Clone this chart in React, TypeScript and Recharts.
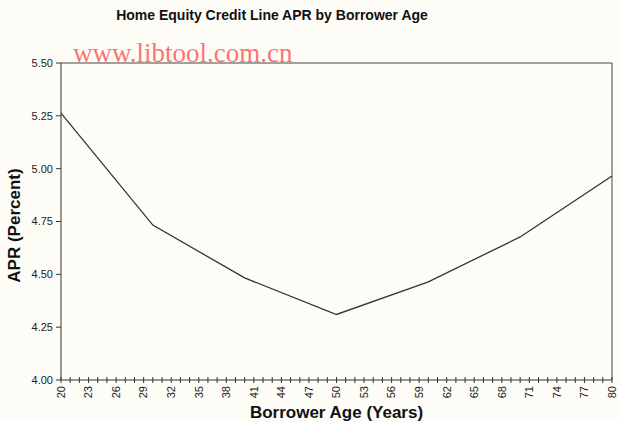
import React from "react";
import { LineChart, Line, XAxis, YAxis, ReferenceLine, Label } from "recharts";

const ages = [20, 30, 40, 50, 60, 70, 80];
const aprValues = [5.263, 4.733, 4.483, 4.31, 4.464, 4.677, 4.965];
const yTicks = [4.0, 4.25, 4.5, 4.75, 5.0, 5.25, 5.5];
const xTicks: number[] = [];
for (let a = 20; a <= 80; a++) xTicks.push(a);
const labelEvery = 3;

const data = ages.map((age, i) => ({ age, apr: aprValues[i] }));

const FONT = "'Liberation Sans', Arial, sans-serif";

const XTick = (props: any) => {
  const { x, y, payload } = props;
  const v = payload.value as number;
  const show = (v - 20) % labelEvery === 0;
  return (
    <g>
      <line x1={x} x2={x} y1={y - 3} y2={y + 3} stroke="#333" strokeWidth={1} />
      {show && (
        <text
          x={x}
          y={y + 6}
          transform={`rotate(-90 ${x} ${y + 6})`}
          textAnchor="end"
          dy="0.35em"
          fontSize={11}
          fontFamily={FONT}
          fill="#222"
        >
          {v}
        </text>
      )}
    </g>
  );
};

export default function App() {
  return (
    <div style={{ position: "fixed", left: 0, top: 0, width: 618, height: 422, background: "#fdfcf6" }}>
      <LineChart
        width={618}
        height={422}
        data={data}
        margin={{ top: 63, right: 6, bottom: 0, left: 0 }}
      >
        <XAxis
          dataKey="age"
          type="number"
          domain={[20, 80]}
          ticks={xTicks}
          interval={0}
          tickSize={0}
          tickMargin={0}
          tickLine={false}
          tick={<XTick />}
          height={42}
          axisLine={{ stroke: "#333" }}
        >
          <Label
            value="Borrower Age (Years)"
            position="insideBottom"
            offset={4}
            style={{ fontFamily: FONT, fontWeight: "bold", fontSize: 17, fill: "#111" }}
          />
        </XAxis>
        <YAxis
          type="number"
          domain={[4, 5.5]}
          ticks={yTicks}
          interval={0}
          width={61}
          tickSize={5}
          tickMargin={3}
          tickFormatter={(v: number) => v.toFixed(2)}
          tick={{ fontSize: 11, fontFamily: FONT, fill: "#222" }}
          axisLine={{ stroke: "#333" }}
          tickLine={{ stroke: "#333" }}
        >
          <Label
            value="APR (Percent)"
            angle={-90}
            position="insideLeft"
            offset={14}
            dy={4}
            style={{ fontFamily: FONT, fontWeight: "bold", fontSize: 17, fill: "#111", textAnchor: "middle" }}
          />
        </YAxis>
        <ReferenceLine y={5.5} stroke="#444" strokeWidth={1} />
        <ReferenceLine x={80} stroke="#444" strokeWidth={1} />
        <Line
          type="linear"
          dataKey="apr"
          stroke="#333"
          strokeWidth={1.3}
          dot={false}
          isAnimationActive={false}
        />
      </LineChart>
      <svg
        width={618}
        height={422}
        style={{ position: "absolute", left: 0, top: 0, pointerEvents: "none" }}
      >
        <text
          x={272}
          y={20}
          textAnchor="middle"
          fontFamily={FONT}
          fontWeight="bold"
          fontSize={14}
          fill="#111"
        >
          Home Equity Credit Line APR by Borrower Age
        </text>
        <text
          x={73}
          y={62}
          fontFamily="'Liberation Serif', 'Times New Roman', serif"
          fontSize={27}
          fill="#ff5a5a"
          opacity={0.85}
        >
          www.libtool.com.cn
        </text>
      </svg>
    </div>
  );
}
